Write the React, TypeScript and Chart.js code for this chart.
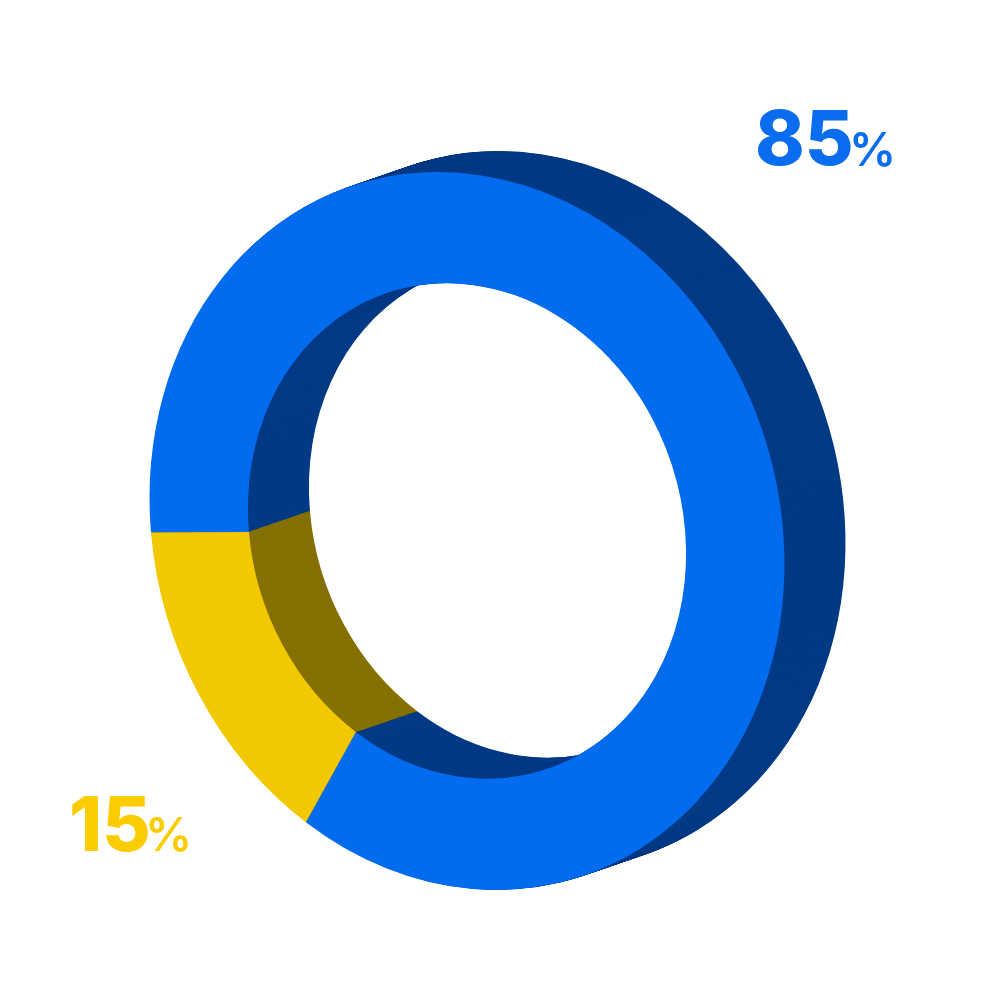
import React, { useEffect, useRef } from "react";
import { Chart, registerables } from "chart.js";

Chart.register(...registerables);

const categories = ["85%", "15%"];
const shares = [85, 15];
const faceColors = ["#026BEE", "#F2C800"];
const depthColors = ["#023A85", "#857000"];
const labelColors = ["#0A6DF0", "#FBCC00"];

// Ring geometry, in pixels of the 1000x1000 picture.
const CENTER = { x: 467, y: 531 };
const SHAPE = { a: 317.5, b: 33, d: 357.5 };
const DEPTH = { x: 61, y: -21 };
const DEPTH_STEPS = 90;
const NUMBER_POS = [
  { x: 755, y: 165 },
  { x: 69, y: 851 },
];
const PERCENT_POS = [
  { x: 849, y: 166 },
  { x: 145, y: 851 },
];
const FONT = "Inter";

const ringTransform = (ctx: CanvasRenderingContext2D, cx: number, cy: number, r: number, dx = 0, dy = 0) => {
  ctx.translate(CENTER.x + dx, CENTER.y + dy);
  ctx.transform(SHAPE.a / r, SHAPE.b / r, 0, SHAPE.d / r, 0, 0);
  ctx.translate(-cx, -cy);
};

const ringPlugin = {
  id: "ring3d",
  beforeDatasetsDraw(chart: any) {
    const ctx = chart.ctx as CanvasRenderingContext2D;
    const arcs = chart.getDatasetMeta(0).data as any[];
    const { x, y, outerRadius } = arcs[0];
    for (let s = DEPTH_STEPS; s >= 1; s--) {
      ctx.save();
      ringTransform(ctx, x, y, outerRadius, (DEPTH.x * s) / DEPTH_STEPS, (DEPTH.y * s) / DEPTH_STEPS);
      arcs.forEach((arc, i) => {
        const prev = arc.options;
        arc.options = { ...prev, backgroundColor: depthColors[i], borderWidth: 0 };
        arc.draw(ctx);
        arc.options = prev;
      });
      ctx.restore();
    }
    ctx.save();
    ringTransform(ctx, x, y, outerRadius);
  },
  afterDatasetsDraw(chart: any) {
    const ctx = chart.ctx as CanvasRenderingContext2D;
    ctx.restore();
    ctx.save();
    ctx.textBaseline = "alphabetic";
    ctx.textAlign = "left";
    categories.forEach((label, i) => {
      const num = label.replace("%", "");
      ctx.fillStyle = labelColors[i];
      ctx.font = `800 75px ${FONT}`;
      ctx.fillText(num, NUMBER_POS[i].x, NUMBER_POS[i].y);
      ctx.font = `600 47px ${FONT}`;
      ctx.fillText("%", PERCENT_POS[i].x, PERCENT_POS[i].y);
    });
    ctx.restore();
  },
};

export default function App() {
  const ref = useRef<HTMLCanvasElement>(null);
  useEffect(() => {
    const chart = new Chart(ref.current!, {
      type: "doughnut",
      data: {
        labels: categories,
        datasets: [
          {
            data: shares,
            backgroundColor: faceColors,
            borderWidth: 0,
            clip: false,
          } as any,
        ],
      },
      options: {
        responsive: false,
        animation: false,
        rotation: 264.5,
        cutout: "69%",
        layout: { padding: 0 },
        plugins: { legend: { display: false }, tooltip: { enabled: false } },
      },
      plugins: [ringPlugin],
    });
    return () => chart.destroy();
  }, []);
  return (
    <div style={{ position: "absolute", left: 0, top: 0, width: 1000, height: 1000, background: "#fff" }}>
      <canvas ref={ref} width={1000} height={1000} style={{ display: "block", width: 1000, height: 1000 }} />
    </div>
  );
}
